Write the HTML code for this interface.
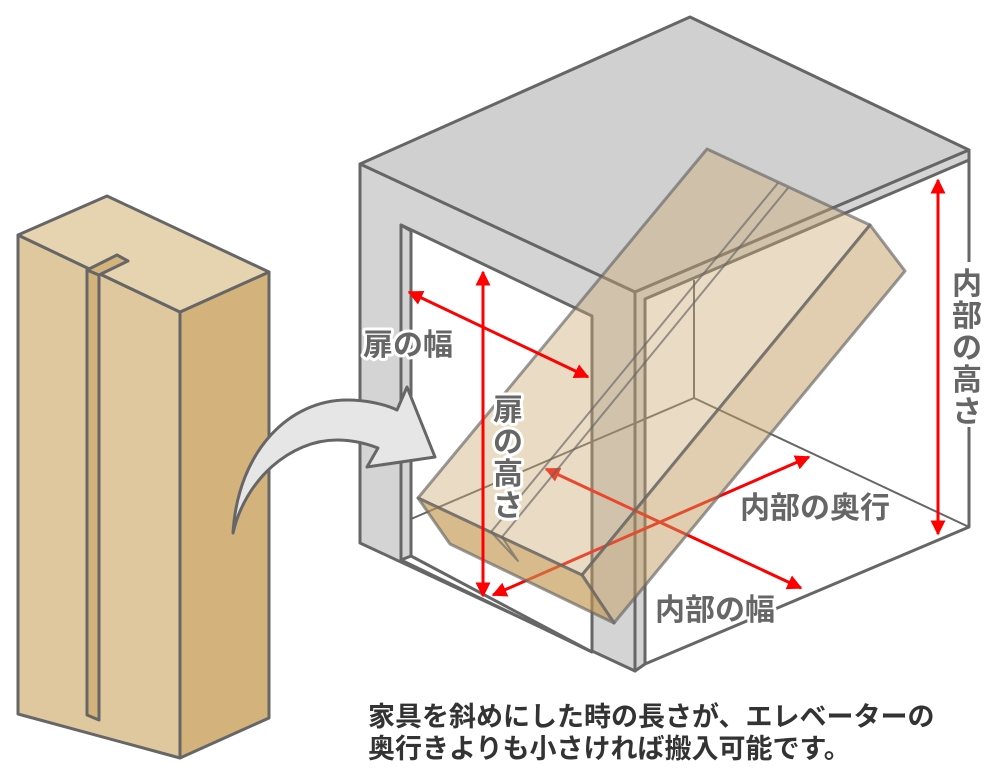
<!DOCTYPE html>
<html><head><meta charset="utf-8"><style>
html,body{margin:0;padding:0;background:#fff;}
svg{display:block}
.lbl{font-family:"Liberation Sans","Noto Sans CJK JP",sans-serif;font-weight:bold;fill:#666;paint-order:stroke;stroke:#fff;stroke-width:6px;stroke-linejoin:round}
</style></head><body>
<svg width="1000" height="778" viewBox="0 0 1000 778" xmlns="http://www.w3.org/2000/svg">
<defs>
<marker id="ah" viewBox="0 0 10 10" refX="9" refY="5" markerWidth="5" markerHeight="5" orient="auto-start-reverse"><path d="M0,0 L10,5 L0,10 Z" fill="#f00"/></marker>
</defs>
<g stroke="#666" stroke-width="3" stroke-linejoin="round">
<polygon points="18,235 180,312 180,758 18,714" fill="#dfc79e"/>
<polygon points="180,312 269,272 269,718 180,758" fill="#d3b27b"/>
<polygon points="18,235 107,196 269,272 180,312" fill="#e6d3b0"/>
<polygon points="87,270 99,275 99,720 87,715" fill="#d3b27b"/>
<polygon points="87,270 117,255 128,261 99,275" fill="#d3b27b"/>
<polygon points="360,164 690,17 969,150 635,292" fill="#d0d0d0"/>
<polygon points="360,164 635,292 635,671 360,543" fill="#d4d4d4"/>
<polygon points="401,225 592,316 592,652 401,560" fill="#fff"/>
<polygon points="401,225 411,231 411,556 401,560" fill="#d4d4d4"/>
<polygon points="635,292 969,150 969,160 645,299 645,664 635,671" fill="#d4d4d4"/>
<polyline points="969,160 969,527 645,664" fill="none"/>
<polyline points="694,280 694,398 969,527" fill="none" stroke-width="2"/>
<line x1="694" y1="398" x2="411" y2="519" stroke-width="2"/>
<line x1="411" y1="556" x2="592" y2="652"/>
<path d="M233,533 C238,450 290,400 347,400 C365,400 385,404 397,410 L407,387 L435,457 L367,467 L378,448 C365,443 350,440 337,440 C290,440 245,480 233,533 Z" fill="#e6e6e6"/>
</g>
<g stroke="#f00" stroke-width="3" fill="none">
<line x1="493" y1="595" x2="809" y2="457" marker-start="url(#ah)" marker-end="url(#ah)"/>
<line x1="546" y1="469" x2="801" y2="588" marker-start="url(#ah)" marker-end="url(#ah)"/>
</g>
<g stroke="rgba(100,100,100,0.65)" stroke-width="3" stroke-linejoin="round">
<polygon points="707,149 870,225 582,575 418,498" fill="rgba(205,170,115,0.42)"/>
<polygon points="870,225 905,271 614,623 582,575" fill="rgba(195,155,95,0.5)"/>
<polygon points="418,498 582,575 614,623 450,544" fill="rgba(195,150,80,0.65)"/>
<line x1="778" y1="183" x2="491" y2="532" stroke-width="2"/>
<line x1="788" y1="188" x2="502" y2="537" stroke-width="2"/>
<polyline points="491,532 518,561 502,537" fill="none" stroke-width="2"/>
</g>
<g stroke="#f00" stroke-width="3" fill="none">
<line x1="409" y1="292" x2="588" y2="377" marker-start="url(#ah)" marker-end="url(#ah)"/>
<line x1="483" y1="272" x2="483" y2="596" marker-start="url(#ah)" marker-end="url(#ah)"/>
<line x1="938" y1="180" x2="938" y2="534" marker-start="url(#ah)" marker-end="url(#ah)"/>
</g>
<text class="lbl" x="363" y="355" font-size="30">扉の幅</text>
<g class="lbl" font-size="30" text-anchor="middle">
<text x="508" y="420">扉</text><text x="508" y="452">の</text><text x="508" y="484">高</text><text x="508" y="516">さ</text>
</g>
<rect x="950" y="262" width="34" height="165" fill="#fff"/>
<g class="lbl" font-size="30" text-anchor="middle">
<text x="967" y="294">内</text><text x="967" y="326">部</text><text x="967" y="358">の</text><text x="967" y="390">高</text><text x="967" y="422">さ</text>
</g>
<text class="lbl" x="740" y="518" font-size="30">内部の奥行</text>
<text class="lbl" x="655" y="620" font-size="30">内部の幅</text>
<g font-family="'Liberation Sans','Noto Sans CJK JP',sans-serif" font-weight="bold" font-size="27" fill="#333">
<text x="368" y="726">家具を斜めにした時の長さが、エレベーターの</text>
<text x="368" y="758">奥行きよりも小さければ搬入可能です。</text>
</g>
</svg>
</body></html>
